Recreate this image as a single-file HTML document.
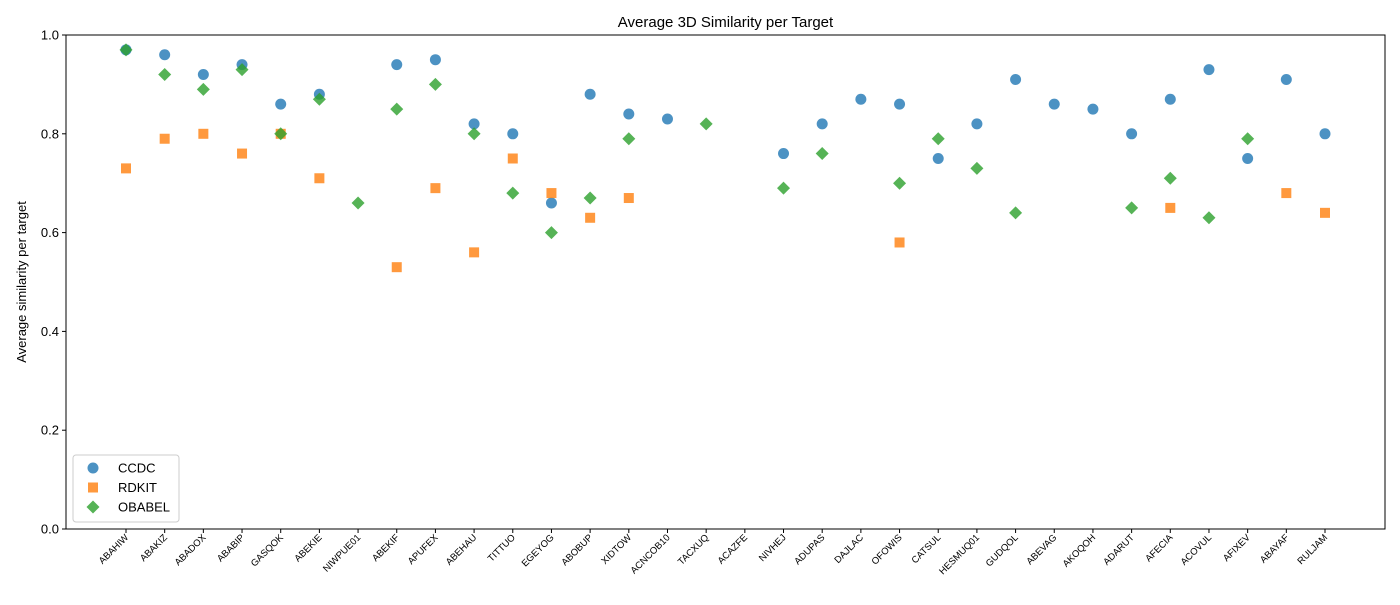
<!DOCTYPE html>
<html><head><meta charset="utf-8"><style>
body{margin:0;background:#fff;font-family:"Liberation Sans","DejaVu Sans",sans-serif;}
</style></head><body>
<svg id="c" width="1400" height="600" xmlns="http://www.w3.org/2000/svg"></svg>
<script>
const categories=["ABAHIW","ABAKIZ","ABADOX","ABABIP","GASQOK","ABEKIE","NIWPUE01","ABEKIF","APUFEX","ABEHAU","TITTUO","EGEYOG","ABOBUP","XIDTOW","ACNCOB10","TACXUQ","ACAZFE","NIVHEJ","ADUPAS","DAJLAC","OFOWIS","CATSUL","HESMUQ01","GUDQOL","ABEVAG","AKOQOH","ADARUT","AFECIA","ACOVUL","AFIXEV","ABAYAF","RULJAM"];
const ccdc=[0.97,0.96,0.92,0.94,0.86,0.88,null,0.94,0.95,0.82,0.80,0.66,0.88,0.84,0.83,null,null,0.76,0.82,0.87,0.86,0.75,0.82,0.91,0.86,0.85,0.80,0.87,0.93,0.75,0.91,0.80];
const rdkit=[0.73,0.79,0.80,0.76,0.80,0.71,null,0.53,0.69,0.56,0.75,0.68,0.63,0.67,null,null,null,null,null,null,0.58,null,null,null,null,null,null,0.65,null,null,0.68,0.64];
const obabel=[0.97,0.92,0.89,0.93,0.80,0.87,0.66,0.85,0.90,0.80,0.68,0.60,0.67,0.79,null,0.82,null,0.69,0.76,null,0.70,0.79,0.73,0.64,null,null,0.65,0.71,0.63,0.79,null,null];
const yTicks=[0,0.2,0.4,0.6,0.8,1.0];
const yTickLabels=["0.0","0.2","0.4","0.6","0.8","1.0"];
const L=66,R=1385,T=35,B=529;
const x0=126,x1=1325;
function xs(i){return x0+(x1-x0)*i/(categories.length-1);}
function ys(v){return B-(B-T)*v;}
const svg=document.getElementById('c');const NS="http://www.w3.org/2000/svg";
function mk(t,a,p){const e=document.createElementNS(NS,t);for(const k in a)e.setAttribute(k,a[k]);(p||svg).appendChild(e);return e;}
let e=mk('rect',{x:L,y:T,width:R-L,height:B-T,fill:'none',stroke:'#000','stroke-width':1});


e=mk('text',{x:(L+R)/2,y:27,'text-anchor':'middle','font-size':15});e.textContent="Average 3D Similarity per Target";


e=mk('text',{x:26,y:(T+B)/2,'text-anchor':'middle','font-size':13,transform:`rotate(-90 26 ${(T+B)/2})`});e.textContent="Average similarity per target";


yTicks.forEach((v,i)=>{const y=ys(v);mk('line',{x1:L-4,x2:L,y1:y,y2:y,stroke:'#000'});
e=mk('text',{x:L-7,y:y+4.5,'text-anchor':'end','font-size':13});e.textContent=yTickLabels[i];

});
categories.forEach((c,i)=>{const x=xs(i);mk('line',{x1:x,x2:x,y1:B,y2:B+4,stroke:'#000'});
e=mk('text',{x:x+3,y:538,'text-anchor':'end','font-size':9.5,transform:`rotate(-45 ${x+3} 538)`});e.textContent=c;

});
function circ(x,y,p){return mk('circle',{cx:x,cy:y,r:5.5,fill:'#1f77b4','fill-opacity':0.8},p);}
function sq(x,y,p){return mk('rect',{x:x-5,y:y-5,width:10,height:10,fill:'#ff7f0e','fill-opacity':0.8},p);}
function dia(x,y,p){return mk('polygon',{points:`${x},${y-6.5} ${x+6.5},${y} ${x},${y+6.5} ${x-6.5},${y}`,fill:'#2ca02c','fill-opacity':0.8},p);}
ccdc.forEach((v,i)=>{if(v==null)return;e=circ(xs(i),ys(v));

});
rdkit.forEach((v,i)=>{if(v==null)return;e=sq(xs(i),ys(v));

});
obabel.forEach((v,i)=>{if(v==null)return;e=dia(xs(i),ys(v));

});
const lg=mk('g',{});


mk('rect',{x:73,y:455,width:106,height:67,rx:3,fill:'#fff','fill-opacity':0.8,stroke:'#ccc'},lg);
const names=["CCDC","RDKIT","OBABEL"],fns=[circ,sq,dia];
names.forEach((n,i)=>{const y=468+i*19.5;fns[i](93,y,lg);e=mk('text',{x:118,y:y+4.5,'font-size':13},lg);e.textContent=n;

});
</script>
</body></html>
